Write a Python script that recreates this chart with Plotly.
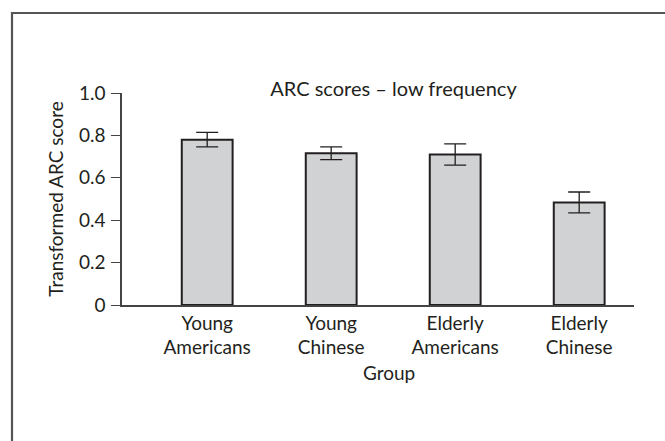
import plotly.graph_objects as go

categories = ["Young Americans", "Young Chinese", "Elderly Americans", "Elderly Chinese"]
tick_labels = ["Young<br>Americans", "Young<br>Chinese", "Elderly<br>Americans", "Elderly<br>Chinese"]
scores = [0.780, 0.716, 0.710, 0.484]
errors = [0.034, 0.030, 0.050, 0.049]
y_ticks = [0, 0.2, 0.4, 0.6, 0.8, 1.0]
y_tick_text = ["0", "0.2", "0.4", "0.6", "0.8", "1.0"]

TXT = "#231f20"
FONT = "Lato"

fig = go.Figure()
fig.add_trace(go.Bar(
    x=categories, y=scores, width=0.41,
    marker=dict(color="#d1d2d4", line=dict(color=TXT, width=2)),
    error_y=dict(type="data", array=errors, visible=True, color=TXT, thickness=1.3, width=11),
))

W, H = 665, 441
L, R, T, B = 122, 31, 93, 136
pw, ph = W - L - R, H - T - B

def px(x):
    return (x - L) / pw

def py(y):
    return (H - B - y) / ph

fig.update_layout(
    width=W, height=H,
    margin=dict(l=L, r=R, t=T, b=B, pad=0),
    paper_bgcolor="white", plot_bgcolor="white",
    showlegend=False,
    font=dict(family=FONT, size=19, color=TXT),
    title=dict(text="ARC scores – low frequency", font=dict(family=FONT, size=20, color=TXT),
               xref="container", yref="container", x=393.5 / W, xanchor="center",
               y=1 - 89 / H, yanchor="middle"),
    xaxis=dict(
        type="category", categoryorder="array", categoryarray=categories,
        range=[-0.687, 3.442], automargin=False,
        tickvals=categories, ticktext=tick_labels,
        showline=True, linecolor="#444444", linewidth=1.5,
        ticks="", showgrid=False, zeroline=False,
        tickfont=dict(family=FONT, size=19, color=TXT),
    ),
    yaxis=dict(
        range=[0, 1.0], tickvals=y_ticks, ticktext=y_tick_text, automargin=False,
        showline=True, linecolor="#444444", linewidth=1.5,
        ticks="outside", ticklen=9, tickwidth=1.3, tickcolor="#444444",
        ticklabelstandoff=2,
        showgrid=False, zeroline=False,
        tickfont=dict(family=FONT, size=19, color=TXT),
        title=dict(text="Transformed ARC score", font=dict(family=FONT, size=19, color=TXT), standoff=10),
    ),
    annotations=[dict(
        text="Group", xref="paper", yref="paper", x=px(389), y=py(372),
        xanchor="center", yanchor="middle", showarrow=False,
        font=dict(family=FONT, size=19, color=TXT),
    )],
    shapes=[dict(
        type="path", xref="paper", yref="paper",
        path=f"M {px(12)} {py(441)} L {px(12)} {py(13)} L {px(665)} {py(13)}",
        line=dict(color="#555555", width=2.2),
    )],
)

fig.write_html(
    "out.html",
    config={"displayModeBar": False},
    post_script="document.body.style.margin='0';document.body.style.overflow='hidden';",
)
